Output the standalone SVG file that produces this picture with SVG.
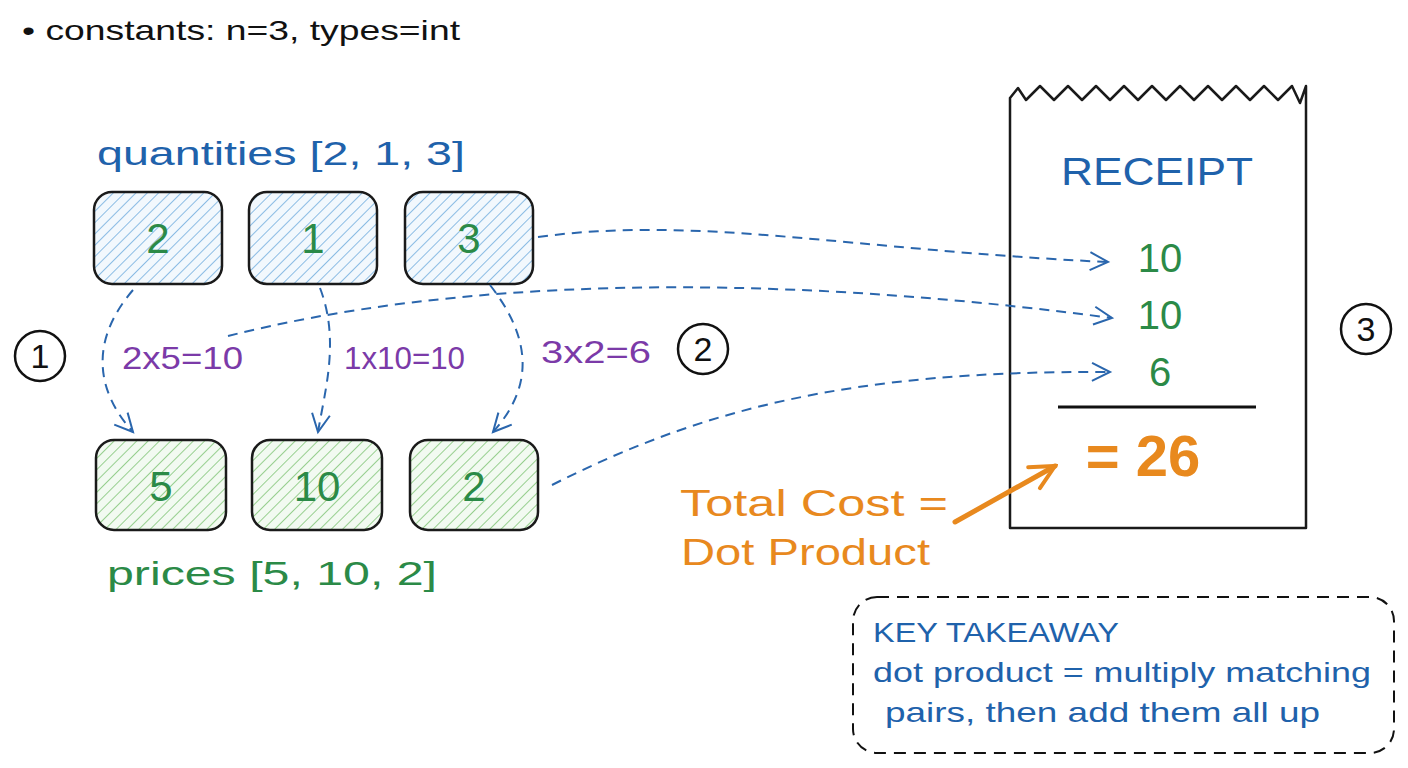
<svg xmlns="http://www.w3.org/2000/svg" width="1408" height="768" viewBox="0 0 1408 768">
<defs>
<pattern id="hb" width="8" height="8" patternUnits="userSpaceOnUse" patternTransform="rotate(45)">
<rect width="8" height="8" fill="#f2f8fd"/>
<line x1="0" y1="0" x2="0" y2="8" stroke="#7fb5e2" stroke-width="1.8"/>
</pattern>
<pattern id="hg" width="8" height="8" patternUnits="userSpaceOnUse" patternTransform="rotate(45)">
<rect width="8" height="8" fill="#f2faf1"/>
<line x1="0" y1="0" x2="0" y2="8" stroke="#8dcb84" stroke-width="1.8"/>
</pattern>
<marker id="ab" viewBox="0 0 24 24" refX="21" refY="12" markerWidth="24" markerHeight="24" markerUnits="userSpaceOnUse" orient="auto">
<path d="M3,3 L21,12 L3,21" fill="none" stroke="#2a66ad" stroke-width="2"/>
</marker>
<marker id="ao" viewBox="0 0 30 30" refX="27" refY="15" markerWidth="30" markerHeight="30" markerUnits="userSpaceOnUse" orient="auto">
<path d="M3,3 L27,15 L3,27" fill="none" stroke="#e8891e" stroke-width="4" stroke-linecap="round"/>
</marker>
<style>
.t{font-family:"Liberation Sans","DejaVu Sans",sans-serif}
.box{stroke:#1a1a1a;stroke-width:2.5}
.num{font-size:42px;fill:#2b8a47;text-anchor:middle}
.blue{fill:#1f62ab}
.green{fill:#2b8a47}
.purple{fill:#7b3aa8;font-size:31px}
.orange{fill:#e8891e}
.dash{fill:none;stroke:#2a66ad;stroke-width:2;stroke-dasharray:10 7}
.circ{fill:#fff;stroke:#111;stroke-width:2.5}
.cn{font-size:34px;fill:#111;text-anchor:middle}
</style>
</defs>
<rect width="1408" height="768" fill="#fff"/>

<text class="t" x="22" y="40" font-size="28" fill="#111" textLength="438" lengthAdjust="spacingAndGlyphs">• constants: n=3, types=int</text>

<text class="t blue" x="97" y="165" font-size="34" textLength="368" lengthAdjust="spacingAndGlyphs">quantities [2, 1, 3]</text>
<text class="t green" x="107" y="585" font-size="34" textLength="330" lengthAdjust="spacingAndGlyphs">prices [5, 10, 2]</text>

<g id="q1"><rect class="box" x="94" y="192" width="128" height="92" rx="18" fill="url(#hb)"/><text class="t num" x="158" y="253">2</text></g>
<g id="q2"><rect class="box" x="249" y="192" width="128" height="92" rx="18" fill="url(#hb)"/><text class="t num" x="313" y="253">1</text></g>
<g id="q3"><rect class="box" x="405" y="192" width="128" height="92" rx="18" fill="url(#hb)"/><text class="t num" x="469" y="253">3</text></g>

<g id="p1"><rect class="box" x="96" y="440" width="130" height="90" rx="18" fill="url(#hg)"/><text class="t num" x="161" y="501">5</text></g>
<g id="p2"><rect class="box" x="252" y="440" width="130" height="90" rx="18" fill="url(#hg)"/><text class="t num" x="317" y="501">10</text></g>
<g id="p3"><rect class="box" x="410" y="440" width="128" height="90" rx="18" fill="url(#hg)"/><text class="t num" x="474" y="501">2</text></g>

<g id="c1"><circle class="circ" cx="40" cy="356" r="25"/><text class="t cn" x="40" y="368">1</text></g>
<g id="c2"><circle class="circ" cx="703" cy="349" r="25"/><text class="t cn" x="703" y="361">2</text></g>
<g id="c3"><circle class="circ" cx="1366" cy="329" r="25"/><text class="t cn" x="1366" y="341">3</text></g>

<g id="receipt">
<path d="M1010,98 L1018,88 L1026,100 L1040,86 L1054,100 L1068,86 L1082,100 L1096,86 L1110,100 L1124,86 L1138,100 L1152,86 L1166,100 L1180,86 L1194,100 L1208,86 L1222,100 L1236,86 L1250,100 L1264,86 L1278,100 L1292,86 L1300,103 L1306,86 L1306,528 L1010,528 Z" fill="#fff" stroke="#1a1a1a" stroke-width="2.5" stroke-linejoin="round"/>
<text class="t blue" x="1157" y="185" font-size="38" text-anchor="middle" textLength="192" lengthAdjust="spacingAndGlyphs">RECEIPT</text>
<text class="t green" x="1160" y="272" font-size="40" text-anchor="middle">10</text>
<text class="t green" x="1160" y="329" font-size="40" text-anchor="middle">10</text>
<text class="t green" x="1160" y="386" font-size="40" text-anchor="middle">6</text>
<line x1="1058" y1="407" x2="1256" y2="407" stroke="#111" stroke-width="3"/>
<text class="t orange" x="1143" y="476" font-size="58" font-weight="bold" text-anchor="middle">= 26</text>
</g>

<g id="total">
<text class="t orange" x="680" y="516" font-size="36" textLength="268" lengthAdjust="spacingAndGlyphs">Total Cost =</text>
<text class="t orange" x="681" y="565" font-size="36" textLength="249" lengthAdjust="spacingAndGlyphs">Dot Product</text>
</g>

<g id="takeaway">
<rect x="853" y="597" width="541" height="156" rx="24" fill="none" stroke="#111" stroke-width="2" stroke-dasharray="12 8"/>
<text class="t blue" x="873" y="642" font-size="27" textLength="246" lengthAdjust="spacingAndGlyphs">KEY TAKEAWAY</text>
<text class="t blue" x="873" y="682" font-size="28" textLength="498" lengthAdjust="spacingAndGlyphs">dot product = multiply matching</text>
<text class="t blue" x="885" y="722" font-size="28" textLength="435" lengthAdjust="spacingAndGlyphs">pairs, then add them all up</text>
</g>

<g id="connectors">
<path class="dash" d="M133,290 C90,340 95,390 133,432" marker-end="url(#ab)"/>
<path class="dash" d="M320,288 C340,340 325,390 318,432" marker-end="url(#ab)"/>
<path class="dash" d="M490,285 C525,330 540,380 493,432" marker-end="url(#ab)"/>
<path class="dash" d="M538,237 C700,215 850,250 1108,262" marker-end="url(#ab)"/>
<path class="dash" d="M228,336 C450,280 750,270 1112,318" marker-end="url(#ab)"/>
<path class="dash" d="M552,485 C700,410 850,370 1110,372" marker-end="url(#ab)"/>
<path d="M955,522 L1055,466" fill="none" stroke="#e8891e" stroke-width="5" stroke-linecap="round" marker-end="url(#ao)"/>
</g>

<text class="t purple" x="122" y="369" textLength="121" lengthAdjust="spacingAndGlyphs">2x5=10</text>
<text class="t purple" x="344" y="369" textLength="121" lengthAdjust="spacingAndGlyphs">1x10=10</text>
<text class="t purple" x="541" y="363" textLength="110" lengthAdjust="spacingAndGlyphs">3x2=6</text>
</svg>
